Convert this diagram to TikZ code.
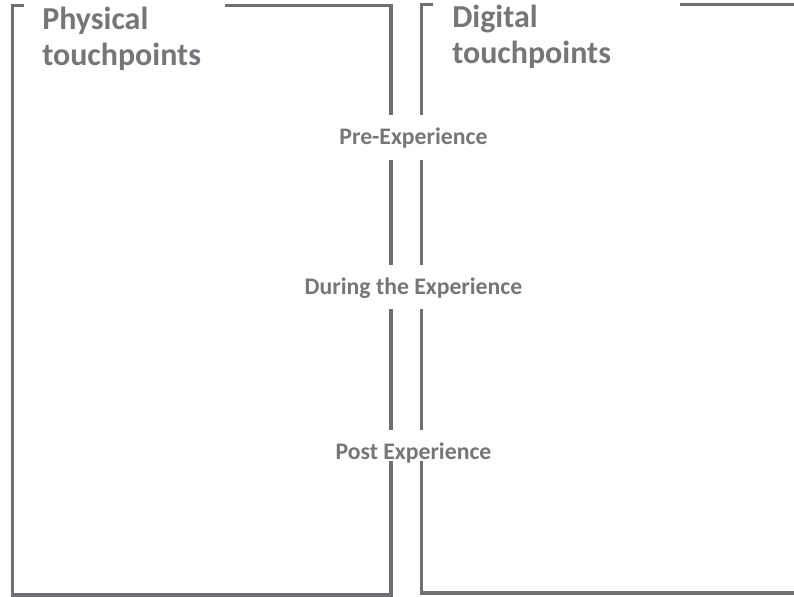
\documentclass[tikz,border=0pt]{standalone}
\usepackage{fontspec}
\setmainfont{Carlito}
\definecolor{framegray}{RGB}{112,112,116}
\definecolor{textgray}{RGB}{118,118,122}

\begin{document}
\begin{tikzpicture}[x=0.75pt,y=-0.75pt,
    frame/.style={draw=framegray,line width=2.3pt},
    heading/.style={anchor=base west,align=left,inner sep=0pt,text=textgray,font=\fontsize{24}{27}\selectfont\bfseries},
    phase/.style={anchor=base,inner sep=0pt,text=textgray,font=\fontsize{17.8}{20}\selectfont\bfseries}]

    \useasboundingbox (0,0) rectangle (794,597);

    \node[heading] (physical) at (42,65) {Physical\\touchpoints};
    \node[heading] (digital) at (452,63) {Digital\\touchpoints};

    \node[phase] (pre) at (413.5,144) {Pre-Experience};
    \node[phase] (during) at (413.5,294) {During the Experience};
    \node[phase] (post) at (413.5,459) {Post Experience};

    % physical box
    \begin{scope}
    \coordinate (p1) at (391,115);
    \coordinate (p2) at (391,160);
    \coordinate (p3) at (391,265);
    \coordinate (p4) at (391,309);
    \coordinate (p5) at (391,430);
    \coordinate (p6) at (391,461);
    \draw[frame] (24,5.5) -- (12.5,5.5) -- (12.5,595) -- (391,595) -- (p6);
    \draw[frame] (p5) -- (p4);
    \draw[frame] (p3) -- (p2);
    \draw[frame] (p1) -- (391,5.5) -- (225,5.5);
    \end{scope}

    % digital box
    \begin{scope}
    \coordinate (d1) at (421.5,115);
    \coordinate (d2) at (421.5,160);
    \coordinate (d3) at (421.5,265);
    \coordinate (d4) at (421.5,309);
    \coordinate (d5) at (421.5,430);
    \coordinate (d6) at (421.5,461);
    \draw[frame] (433,4.2) -- (421.5,4.2) -- (d1);
    \draw[frame] (d2) -- (d3);
    \draw[frame] (d4) -- (d5);
    \draw[frame] (d6) -- (421.5,593) -- (800,593);
    \draw[frame] (680,4.2) -- (800,4.2);
    \end{scope}
    \end{tikzpicture}
\end{document}
